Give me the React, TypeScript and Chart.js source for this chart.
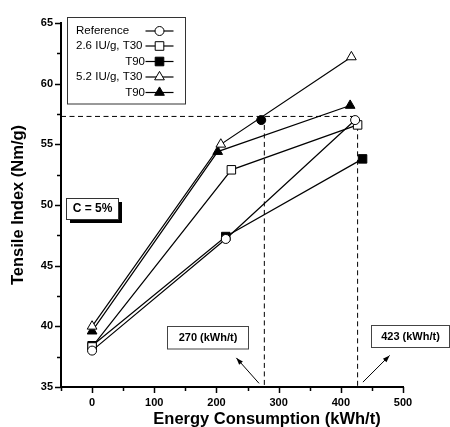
import React, { useEffect, useRef } from 'react';
import { Chart, registerables } from 'chart.js';
Chart.register(...registerables);

// ---- data ----
const refX = [0, 215, 423];
const refY = [38.0, 47.2, 57.0];
const t30LowX = [0, 224, 427];
const t30LowY = [38.3, 52.9, 56.6];
const t90LowX = [0, 215, 435];
const t90LowY = [38.4, 47.4, 53.8];
const t30HighX = [0, 207, 417];
const t30HighY = [40.0, 55.0, 62.2];
const t90HighX = [0, 202, 415];
const t90HighY = [39.6, 54.4, 58.2];
const optimumX = [272];
const optimumY = [57.0];
const guideLevel = 57.3;
const guideX1 = 277;
const guideX2 = 427;
const xTickLabels = [0, 100, 200, 300, 400, 500];
const yTickLabels = [35, 40, 45, 50, 55, 60, 65];
const legendLabels = ['Reference', '2.6 IU/g, T30', 'T90', '5.2 IU/g, T30', 'T90'];

const FONT = '"Liberation Sans", Arial, Helvetica, sans-serif';

const zip = (xs: number[], ys: number[]) => xs.map((x, i) => ({ x, y: ys[i] }));

function drawMarker(ctx: CanvasRenderingContext2D, kind: string, x: number, y: number, filled: boolean) {
  ctx.save();
  ctx.beginPath();
  if (kind === 'circle') {
    ctx.arc(x, y, 4.5, 0, Math.PI * 2);
  } else if (kind === 'rect') {
    ctx.rect(x - 4.3, y - 4.3, 8.6, 8.6);
  } else {
    const r = 5.6;
    ctx.moveTo(x, y - r);
    ctx.lineTo(x + r * 0.866, y + r * 0.5);
    ctx.lineTo(x - r * 0.866, y + r * 0.5);
    ctx.closePath();
  }
  ctx.fillStyle = filled ? '#000' : '#fff';
  ctx.fill();
  ctx.strokeStyle = '#000';
  ctx.lineWidth = 1;
  ctx.stroke();
  ctx.restore();
}

const overlay = {
  id: 'overlay',
  afterDraw(chart: any) {
    const ctx: CanvasRenderingContext2D = chart.ctx;
    const xs = chart.scales.x;
    const ys = chart.scales.y;
    const ca = chart.chartArea;
    ctx.save();
    // tick marks
    ctx.strokeStyle = '#000';
    ctx.lineWidth = 1.5;
    xs.ticks.forEach((t: any) => {
      const px = Math.round(xs.getPixelForValue(t.value)) + 0.5;
      const len = t.value % 100 === 0 ? 6 : 4;
      ctx.beginPath();
      ctx.moveTo(px, ca.bottom);
      ctx.lineTo(px, ca.bottom + len);
      ctx.stroke();
    });
    ys.ticks.forEach((t: any) => {
      const py = Math.round(ys.getPixelForValue(t.value)) + 0.5;
      const len = t.value % 5 === 0 ? 6 : 4;
      ctx.beginPath();
      ctx.moveTo(ca.left, py);
      ctx.lineTo(ca.left - len, py);
      ctx.stroke();
    });

    // axis titles
    ctx.fillStyle = '#000';
    ctx.font = `bold 16.5px ${FONT}`;
    ctx.textAlign = 'center';
    ctx.textBaseline = 'middle';
    ctx.fillText('Energy Consumption (kWh/t)', 267, 419);
    ctx.save();
    ctx.translate(18, 205);
    ctx.rotate(-Math.PI / 2);
    ctx.fillText('Tensile Index (Nm/g)', 0, 0);
    ctx.restore();

    // legend box
    ctx.fillStyle = '#fff';
    ctx.fillRect(67.5, 17.5, 118, 86.5);
    ctx.strokeStyle = '#333';
    ctx.lineWidth = 1;
    ctx.strokeRect(67.5, 17.5, 118, 86.5);
    const rowsY = [31, 46, 61.5, 77, 92.5];
    const kinds = [['circle', false], ['rect', false], ['rect', true], ['triangle', false], ['triangle', true]];
    ctx.font = `11.5px ${FONT}`;
    ctx.fillStyle = '#000';
    ctx.textBaseline = 'middle';
    legendLabels.forEach((lab, i) => {
      if (lab === 'T90') {
        ctx.textAlign = 'right';
        ctx.fillText(lab, 145, rowsY[i]);
      } else {
        ctx.textAlign = 'left';
        ctx.fillText(lab, 76, rowsY[i]);
      }
      ctx.strokeStyle = '#000';
      ctx.lineWidth = 1.2;
      ctx.beginPath();
      ctx.moveTo(145.5, rowsY[i]);
      ctx.lineTo(173.5, rowsY[i]);
      ctx.stroke();
      drawMarker(ctx, kinds[i][0] as string, 159.5, rowsY[i], kinds[i][1] as boolean);
    });

    // C = 5% box with shadow
    ctx.fillStyle = '#000';
    ctx.fillRect(70, 202, 52, 21);
    ctx.fillStyle = '#fff';
    ctx.fillRect(66.5, 198.5, 52, 21);
    ctx.strokeStyle = '#333';
    ctx.lineWidth = 1;
    ctx.strokeRect(66.5, 198.5, 52, 21);
    ctx.fillStyle = '#000';
    ctx.font = `bold 12px ${FONT}`;
    ctx.textAlign = 'center';
    ctx.fillText('C = 5%', 92.5, 209);

    // value boxes
    ctx.font = `bold 11px ${FONT}`;
    ctx.strokeStyle = '#444';
    ctx.fillStyle = '#fff';
    ctx.fillRect(167.5, 326.5, 81, 22.5);
    ctx.strokeRect(167.5, 326.5, 81, 22.5);
    ctx.fillRect(371.5, 325.5, 78, 22);
    ctx.strokeRect(371.5, 325.5, 78, 22);
    ctx.fillStyle = '#000';
    ctx.fillText('270 (kWh/t)', 208, 338);
    ctx.fillText('423 (kWh/t)', 410.5, 336.5);

    // arrows
    const arrow = (x1: number, y1: number, x2: number, y2: number) => {
      const p1x = xs.getPixelForValue(x1), p1y = ys.getPixelForValue(y1);
      const p2x = xs.getPixelForValue(x2), p2y = ys.getPixelForValue(y2);
      ctx.strokeStyle = '#000';
      ctx.lineWidth = 1;
      ctx.beginPath();
      ctx.moveTo(p1x, p1y);
      ctx.lineTo(p2x, p2y);
      ctx.stroke();
      const a = Math.atan2(p2y - p1y, p2x - p1x);
      const L = 7, W = 2.5;
      ctx.fillStyle = '#000';
      ctx.beginPath();
      ctx.moveTo(p2x, p2y);
      ctx.lineTo(p2x - L * Math.cos(a) + W * Math.sin(a), p2y - L * Math.sin(a) - W * Math.cos(a));
      ctx.lineTo(p2x - L * Math.cos(a) - W * Math.sin(a), p2y - L * Math.sin(a) + W * Math.cos(a));
      ctx.closePath();
      ctx.fill();
    };
    arrow(268.5, 35.3, 232, 37.4);
    arrow(435.5, 35.4, 478.5, 37.6);

    ctx.restore();
  },
};

export default function App() {
  const ref = useRef<HTMLCanvasElement>(null);
  useEffect(() => {
    if (!ref.current) return;
    const series = (label: string, xs: number[], ys: number[], style: string, filled: boolean, radius: number) => ({
      label,
      data: zip(xs, ys),
      showLine: true,
      borderColor: '#000',
      borderWidth: 1.2,
      pointStyle: style,
      pointRadius: radius,
      pointBackgroundColor: filled ? '#000' : '#fff',
      pointBorderColor: '#000',
      pointBorderWidth: 1,
    });
    const chart = new Chart(ref.current, {
      type: 'scatter',
      data: {
        datasets: [
          {
            label: 'optimum',
            data: zip(optimumX, optimumY),
            showLine: false,
            pointStyle: 'circle',
            pointRadius: 4.5,
            pointBackgroundColor: '#000',
            pointBorderColor: '#000',
          } as any,
          series('Reference', refX, refY, 'circle', false, 4.5),
          series('2.6 IU/g, T30', t30LowX, t30LowY, 'rect', false, 6),
          series('2.6 IU/g, T90', t90LowX, t90LowY, 'rect', true, 6),
          series('5.2 IU/g, T30', t30HighX, t30HighY, 'triangle', false, 5.6),
          series('5.2 IU/g, T90', t90HighX, t90HighY, 'triangle', true, 5.6),
          {
            label: 'guide1',
            data: [
              { x: -50, y: guideLevel },
              { x: guideX2, y: guideLevel },
              { x: guideX2, y: 35 },
            ],
            showLine: true,
            borderColor: '#000',
            borderWidth: 1,
            borderDash: [5, 3.5],
            pointRadius: 0,
          },
          {
            label: 'guide2',
            data: [
              { x: guideX1, y: guideLevel },
              { x: guideX1, y: 35 },
            ],
            showLine: true,
            borderColor: '#000',
            borderWidth: 1,
            borderDash: [5, 3.5],
            pointRadius: 0,
          },
        ],
      },
      options: {
        animation: false,
        responsive: false,
        devicePixelRatio: 1,
        layout: { padding: { left: 0, right: 47, top: 23, bottom: 0 } },
        plugins: { legend: { display: false }, tooltip: { enabled: false } },
        scales: {
          x: {
            type: 'linear',
            min: -50,
            max: 500,
            afterFit: (s: any) => { s.height = 40; },
            ticks: {
              stepSize: 50,
              autoSkip: false,
              maxRotation: 0,
              padding: 4,
              color: '#000',
              font: { family: FONT, size: 11, weight: 'bold' },
              callback: (v: any) => (xTickLabels.includes(Number(v)) ? String(v) : ''),
            },
            grid: { display: true, drawOnChartArea: false, drawTicks: true, tickLength: 5, tickColor: 'rgba(0,0,0,0)', color: 'rgba(0,0,0,0)' },
            border: { display: true, color: '#000', width: 2 },
          },
          y: {
            type: 'linear',
            min: 35,
            max: 65,
            afterFit: (s: any) => { s.width = 61; },
            ticks: {
              stepSize: 2.5,
              autoSkip: false,
              padding: 3,
              color: '#000',
              font: { family: FONT, size: 11, weight: 'bold' },
              callback: (v: any) => (yTickLabels.includes(Number(v)) ? String(v) : ''),
            },
            grid: { display: true, drawOnChartArea: false, drawTicks: true, tickLength: 5, tickColor: 'rgba(0,0,0,0)', color: 'rgba(0,0,0,0)' },
            border: { display: true, color: '#000', width: 2 },
          },
        },
      },
      plugins: [overlay],
    } as any);
    return () => chart.destroy();
  }, []);
  return (
    <div style={{ position: 'absolute', left: 0, top: 0, width: 450, height: 427, background: '#fff' }}>
      <canvas ref={ref} width={450} height={427} style={{ width: 450, height: 427, display: 'block' }} />
    </div>
  );
}
